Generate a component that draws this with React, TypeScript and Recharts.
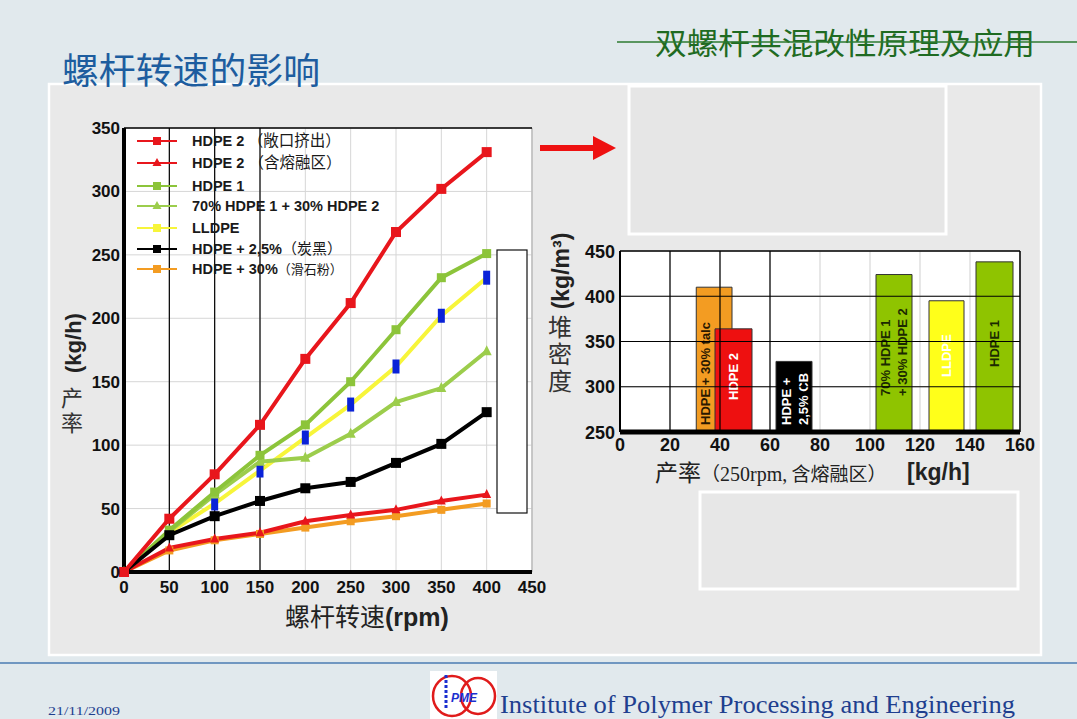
import React from 'react';
import {
  LineChart, Line, XAxis, YAxis, CartesianGrid, ReferenceLine, ReferenceArea,
  ComposedChart, Legend,
} from 'recharts';

// ---------- Left chart data: output (kg/h) vs screw speed (rpm) ----------
const rpm = [0, 50, 100, 150, 200, 250, 300, 350, 400];
const hdpe2Open = [0, 42, 77, 116, 168, 212, 268, 302, 331];
const hdpe2Melt = [0, 19, 26, 31, 40, 45, 49, 56, 61];
const hdpe1 = [0, 33, 63, 92, 116, 150, 191, 232, 251];
const blend = [0, 32, 61, 87, 90, 109, 134, 145, 174];
const lldpe = [0, 31, 54, 80, 106, 132, 162, 202, 232];
const carbonBlack = [0, 29, 44, 56, 66, 71, 86, 101, 126];
const talc = [0, 17, 25, 30, 35, 40, 44, 49, 54];

const leftXTicks = [0, 50, 100, 150, 200, 250, 300, 350, 400, 450];
const leftYTicks = [0, 50, 100, 150, 200, 250, 300, 350];

const legendLabels: [string, string][] = [
  ['HDPE 2', ' （敞口挤出）'],
  ['HDPE 2 ', ' （含熔融区）'],
  ['HDPE 1', ''],
  ['70% HDPE 1 + 30% HDPE 2', ''],
  ['LLDPE', ''],
  ['HDPE + 2,5%', '（炭黑）'],
  ['HDPE + 30%', '（滑石粉）'],
];

// ---------- Right chart data: bulk density vs output ----------
const barNames = ['HDPE + 30% talc', 'HDPE 2', 'HDPE + 2,5% CB', '70% HDPE 1 + 30% HDPE 2', 'LLDPE', 'HDPE 1'];
const barStart = [30.5, 38.0, 62.4, 102.4, 123.6, 142.4];
const barEnd = [44.8, 52.8, 76.8, 116.8, 137.6, 157.2];
const bulkDensity = [410, 364, 328, 424, 395, 438];
const barLabelLines = [
  ['HDPE + 30% talc'],
  ['HDPE 2'],
  ['HDPE +', '2,5% CB'],
  ['70% HDPE 1', '+ 30% HDPE 2'],
  ['LLDPE'],
  ['HDPE 1'],
];
const rightXTicks = [0, 20, 40, 60, 80, 100, 120, 140, 160];
const rightYTicks = [250, 300, 350, 400, 450];

// ---------- built tables ----------
const lineRows = rpm.map((r, i) => ({
  rpm: r,
  hdpe2Open: hdpe2Open[i],
  hdpe2Melt: hdpe2Melt[i],
  hdpe1: hdpe1[i],
  blend: blend[i],
  lldpe: lldpe[i],
  carbonBlack: carbonBlack[i],
  talc: talc[i],
}));

const barRows = barNames.map((n, i) => ({
  name: n, start: barStart[i], end: barEnd[i], density: bulkDensity[i],
}));

// ---------- styles ----------
const SANS = '"Liberation Sans", Arial, Helvetica, sans-serif';
const CJK = '"Noto Sans CJK SC", "Noto Sans", sans-serif';
const SERIF = '"Liberation Serif", "Times New Roman", serif';

const RED = '#e8161c';
const GREEN1 = '#8cc43a';
const GREEN2 = '#9ccd4c';
const YELLOW = '#f7f53a';
const ORANGE = '#f39c22';
const BLACK = '#000000';
const BLUE = '#0a22d8';

type Marker = 'square' | 'triangle' | 'blue';
const lineStyles: { key: string; color: string; marker: Marker; size: number; width: number }[] = [
  { key: 'talc', color: ORANGE, marker: 'square', size: 8, width: 4 },
  { key: 'hdpe2Melt', color: RED, marker: 'triangle', size: 9, width: 4 },
  { key: 'lldpe', color: YELLOW, marker: 'blue', size: 8, width: 4 },
  { key: 'blend', color: GREEN2, marker: 'triangle', size: 10, width: 4 },
  { key: 'hdpe1', color: GREEN1, marker: 'square', size: 9, width: 4 },
  { key: 'carbonBlack', color: BLACK, marker: 'square', size: 10, width: 4 },
  { key: 'hdpe2Open', color: RED, marker: 'square', size: 10, width: 4 },
];

const legendStyles: { color: string; marker: Marker }[] = [
  { color: RED, marker: 'square' },
  { color: RED, marker: 'triangle' },
  { color: GREEN1, marker: 'square' },
  { color: GREEN2, marker: 'triangle' },
  { color: YELLOW, marker: 'square' },
  { color: BLACK, marker: 'square' },
  { color: ORANGE, marker: 'square' },
];
const legendCjkSize = [15.5, 15.5, 15, 15, 15, 15, 13];

const barColors = [ORANGE, '#ee1010', '#000000', '#8fc400', '#ffff1a', '#8fc400'];
const barTextColors = ['#2a1800', '#ffffff', '#ffffff', '#1b2a00', '#ffffff', '#1b2a00'];
const barLabelGap = [7, 32, 7, 36, 55, 65];
const barLabelDx = [[-9], [0], [-8, 9], [-9, 8], [0], [0]];

// ---------- renderers ----------
const makeDot = (marker: Marker, color: string, size: number) => (props: any) => {
  const { cx, cy, index } = props;
  if (cx == null || cy == null) return <g key={`d${index}`} />;
  if (marker === 'square') {
    return <rect key={`d${index}`} x={cx - size / 2} y={cy - size / 2} width={size} height={size} fill={color} />;
  }
  if (marker === 'triangle') {
    const h = size;
    return (
      <polygon
        key={`d${index}`}
        points={`${cx},${cy - h / 2 - 1} ${cx - h / 2},${cy + h / 2 - 1} ${cx + h / 2},${cy + h / 2 - 1}`}
        fill={color}
      />
    );
  }
  if (index < 2) return <g key={`d${index}`} />;
  return <rect key={`d${index}`} x={cx - 3.5} y={cy - 7} width={7} height={14} fill={BLUE} />;
};

const LeftXTick = (props: any) => {
  const { x, y, payload } = props;
  return (
    <text x={x} y={y} dy={13} textAnchor="middle" fontFamily={SANS} fontWeight={700} fontSize={17} fill="#111">
      {payload.value}
    </text>
  );
};
const LeftYTick = (props: any) => {
  const { x, y, payload } = props;
  return (
    <text x={x + 4} y={y} dy={6} textAnchor="end" fontFamily={SANS} fontWeight={700} fontSize={17} fill="#111">
      {payload.value}
    </text>
  );
};
const RightXTick = (props: any) => {
  const { x, y, payload } = props;
  return (
    <text x={x} y={y} dy={11} textAnchor="middle" fontFamily={SANS} fontWeight={700} fontSize={18} fill="#111">
      {payload.value}
    </text>
  );
};
const RightYTick = (props: any) => {
  const { x, y, payload } = props;
  return (
    <text x={x + 3} y={y} dy={6.5} textAnchor="end" fontFamily={SANS} fontWeight={700} fontSize={18} fill="#111">
      {payload.value}
    </text>
  );
};

const LegendContent = () => (
  <svg width={330} height={150} style={{ display: 'block', overflow: 'visible' }}>
    {legendLabels.map((lab, i) => {
      const rowY = [11, 33, 56, 76, 98, 119, 139][i];
      const st = legendStyles[i];
      return (
        <g key={i}>
          <line x1={0} x2={40} y1={rowY} y2={rowY} stroke={st.color} strokeWidth={2} />
          {st.marker === 'square' ? (
            <rect x={16} y={rowY - 4} width={8} height={8} fill={st.color} />
          ) : (
            <polygon points={`20,${rowY - 5} 15.5,${rowY + 3} 24.5,${rowY + 3}`} fill={st.color} />
          )}
          <text x={55} y={rowY} dy={5} fontSize={14.5} fill="#1a1a1a">
            <tspan fontFamily={SANS} fontWeight={700}>{lab[0]}</tspan>
            {lab[1] ? (
              <tspan fontFamily={CJK} fontWeight={400} fontSize={legendCjkSize[i]}>{lab[1]}</tspan>
            ) : null}
          </text>
        </g>
      );
    })}
  </svg>
);

const renderBarLabel = (i: number) => (props: any) => {
  const vb = props.viewBox || {};
  const cx = vb.x + vb.width / 2;
  const bottom = vb.y + vb.height;
  return (
    <g>
      {barLabelLines[i].map((line, j) => {
        const x = cx + barLabelDx[i][j];
        const y = bottom - barLabelGap[i];
        return (
          <text
            key={j}
            x={x}
            y={y}
            transform={`rotate(-90 ${x} ${y})`}
            textAnchor="start"
            dominantBaseline="central"
            fontFamily={SANS}
            fontWeight={700}
            fontSize={13}
            fill={barTextColors[i]}
          >
            {line}
          </text>
        );
      })}
    </g>
  );
};

// ---------- charts ----------
const LeftChart = () => (
  <div style={{ position: 'absolute', left: 80, top: 110, width: 480, height: 500 }}>
    <LineChart width={480} height={500} data={lineRows} margin={{ top: 18, right: 28, bottom: 8, left: 4 }}>
      <CartesianGrid fill="#ffffff" stroke="#d6d6d6" strokeWidth={1} />
      <XAxis
        dataKey="rpm"
        type="number"
        domain={[0, 450]}
        ticks={leftXTicks}
        interval={0}
        height={30}
        tick={<LeftXTick />}
        tickLine={false}
        tickSize={6}
        tickMargin={2}
        axisLine={{ stroke: '#000', strokeWidth: 4 }}
      />
      <YAxis
        type="number"
        domain={[0, 350]}
        ticks={leftYTicks}
        interval={0}
        width={40}
        tick={<LeftYTick />}
        tickLine={false}
        tickSize={6}
        tickMargin={2}
        axisLine={{ stroke: '#000', strokeWidth: 4 }}
      />
      <ReferenceLine x={50} stroke="#000" strokeWidth={1.2} />
      <ReferenceLine x={100} stroke="#000" strokeWidth={1.2} />
      <ReferenceLine x={150} stroke="#000" strokeWidth={1.2} />
      <ReferenceLine x={450} stroke="#bdbdbd" strokeWidth={1.5} />
      <ReferenceLine y={350} stroke="#000" strokeWidth={1.5} />
      <Legend
        layout="horizontal"
        verticalAlign="middle"
        align="center"
        wrapperStyle={{ position: 'absolute', left: 57, top: 20, width: 330, height: 150 }}
        content={<LegendContent />}
      />
      {lineStyles.map((s) => (
        <Line
          key={s.key}
          type="linear"
          dataKey={s.key}
          stroke={s.color}
          strokeWidth={s.width}
          dot={makeDot(s.marker, s.color, s.size)}
          activeDot={false}
          isAnimationActive={false}
          legendType="none"
        />
      ))}
    </LineChart>
  </div>
);

const RightChart = () => (
  <div style={{ position: 'absolute', left: 560, top: 220, width: 480, height: 250 }}>
    <ComposedChart width={480} height={250} data={barRows} margin={{ top: 31, right: 20, bottom: 13, left: 10 }}>
      <CartesianGrid fill="#ffffff" stroke="#cfcfcf" strokeWidth={1} />
      <XAxis
        dataKey="start"
        type="number"
        domain={[0, 160]}
        ticks={rightXTicks}
        interval={0}
        height={25}
        tick={<RightXTick />}
        tickLine={false}
        tickSize={6}
        tickMargin={2}
        axisLine={{ stroke: '#000', strokeWidth: 5 }}
        allowDataOverflow
      />
      <YAxis
        type="number"
        domain={[250, 450]}
        ticks={rightYTicks}
        interval={0}
        width={50}
        tick={<RightYTick />}
        tickLine={false}
        tickSize={6}
        tickMargin={2}
        axisLine={{ stroke: '#000', strokeWidth: 2 }}
        allowDataOverflow
      />
      {/* invisible series that binds the density values to the axes */}
      <Line
        type="linear"
        dataKey="density"
        stroke="none"
        dot={false}
        activeDot={false}
        isAnimationActive={false}
        legendType="none"
      />
      <ReferenceLine x={20} stroke="#000" strokeWidth={1.2} />
      <ReferenceLine x={40} stroke="#000" strokeWidth={1.2} />
      <ReferenceLine x={60} stroke="#000" strokeWidth={1.2} />
      <ReferenceLine x={160} stroke="#000" strokeWidth={1.5} />
      <ReferenceLine y={300} stroke="#000" strokeWidth={1.2} />
      <ReferenceLine y={350} stroke="#000" strokeWidth={1.2} />
      <ReferenceLine y={400} stroke="#000" strokeWidth={1.2} />
      <ReferenceLine y={450} stroke="#000" strokeWidth={1.5} />
      {barRows.map((b, i) => (
        <ReferenceArea
          key={b.name}
          x1={b.start}
          x2={b.end}
          y1={250}
          y2={b.density}
          fill={barColors[i]}
          fillOpacity={1}
          stroke="#333"
          strokeWidth={1}
          strokeOpacity={1}
          ifOverflow="visible"
          label={renderBarLabel(i)}
        />
      ))}
    </ComposedChart>
  </div>
);

// ---------- page ----------
export default function App() {
  return (
    <div
      style={{
        position: 'absolute', left: 0, top: 0, width: 1077, height: 719,
        overflow: 'hidden', background: '#e1e9ed',
      }}
    >
      {/* background panel & empty boxes */}
      <svg width={1077} height={719} style={{ position: 'absolute', left: 0, top: 0 }}>
        <rect x={49} y={84} width={992} height={571} fill="#e9e9e9" stroke="#ffffff" strokeWidth={2.5} />
        <rect x={629} y={86} width={317} height={148} fill="#e6e6e6" stroke="#ffffff" strokeWidth={3} />
        <rect x={700} y={492} width={318} height={97} fill="#e7e7e7" stroke="#ffffff" strokeWidth={3} />
      </svg>

      <LeftChart />
      <RightChart />

      {/* overlay texts and shapes */}
      <svg width={1077} height={719} style={{ position: 'absolute', left: 0, top: 0, pointerEvents: 'none' }}>
        {/* title */}
        <text x={62} y={84} fontFamily={CJK} fontSize={36} fill="#1d5d9f" textLength={258} lengthAdjust="spacingAndGlyphs">螺杆转速的影响</text>
        {/* header */}
        <text x={655} y={54} fontFamily={CJK} fontSize={30} fill="#1f6b22" textLength={380} lengthAdjust="spacingAndGlyphs">
          双螺杆共混改性原理及应用
        </text>
        <line x1={617} x2={1077} y1={42} y2={42} stroke="#2c7a30" strokeWidth={1.5} />

        {/* white box on left chart */}
        <rect x={497} y={250} width={30} height={263} fill="#ffffff" stroke="#111" strokeWidth={1.2} />

        {/* red arrow */}
        <line x1={540} x2={597} y1={148} y2={148} stroke="#ee1111" strokeWidth={6} />
        <polygon points="593,136 616,148 593,160" fill="#ee1111" />

        {/* left axis titles */}
        <text x={73} y={343} transform="rotate(-90 73 343)" textAnchor="middle" dominantBaseline="central"
          fontFamily={SANS} fontWeight={700} fontSize={22} fill="#222">(kg/h)</text>
        <text x={72} y={412} textAnchor="middle" fontFamily={CJK} fontSize={22} letterSpacing={3} fill="#333"
          style={{ writingMode: 'vertical-rl' }}>产率</text>
        <text x={285} y={626} fontSize={25} fill="#222">
          <tspan fontFamily={CJK}>螺杆转速</tspan>
          <tspan fontFamily={SANS} fontWeight={700}>(rpm)</tspan>
        </text>

        {/* right axis titles */}
        <text x={561} y={271} transform="rotate(-90 561 271)" textAnchor="middle" dominantBaseline="central"
          fontFamily={SANS} fontWeight={700} fontSize={23} fill="#222">(kg/m³)</text>
        <text x={560} y={355} textAnchor="middle" fontFamily={CJK} fontSize={24} letterSpacing={3} fill="#333"
          style={{ writingMode: 'vertical-rl' }}>堆密度</text>
        <text x={655} y={481} fill="#222">
          <tspan fontFamily={CJK} fontSize={23}>产率</tspan>
          <tspan fontFamily={CJK} fontSize={19}>（</tspan>
          <tspan fontFamily={SERIF} fontSize={20}>250rpm,</tspan>
          <tspan fontFamily={CJK} fontSize={19}> 含熔融区）</tspan>
        </text>
        <text x={907} y={480} fontFamily={SANS} fontWeight={700} fontSize={23} fill="#222">[kg/h]</text>

        {/* footer */}
        <line x1={0} x2={1077} y1={663} y2={663} stroke="#4a7bb2" strokeWidth={1.5} />
        <text x={48} y={715} fontFamily={SERIF} fontSize={12} fill="#1f3f8f" textLength={72} lengthAdjust="spacingAndGlyphs">21/11/2009</text>
        <rect x={430} y={671} width={67} height={48} fill="#ffffff" />
        <ellipse cx={452} cy={696} rx={19} ry={20} fill="none" stroke="#e01b1b" strokeWidth={2.5} />
        <ellipse cx={478} cy={696} rx={17} ry={18} fill="none" stroke="#e01b1b" strokeWidth={2.5} />
        <line x1={446} x2={446} y1={675} y2={708} stroke="#1a2fd0" strokeWidth={3} strokeDasharray="3 2" />
        <text x={451} y={702} fontFamily={SANS} fontWeight={700} fontStyle="italic" fontSize={12} fill="#1a2fd0">PME</text>
        <text x={500} y={713} fontFamily={SERIF} fontSize={25} fill="#1f3f8f" textLength={515} lengthAdjust="spacingAndGlyphs">
          Institute of Polymer Processing and Engineering
        </text>
      </svg>
    </div>
  );
}
